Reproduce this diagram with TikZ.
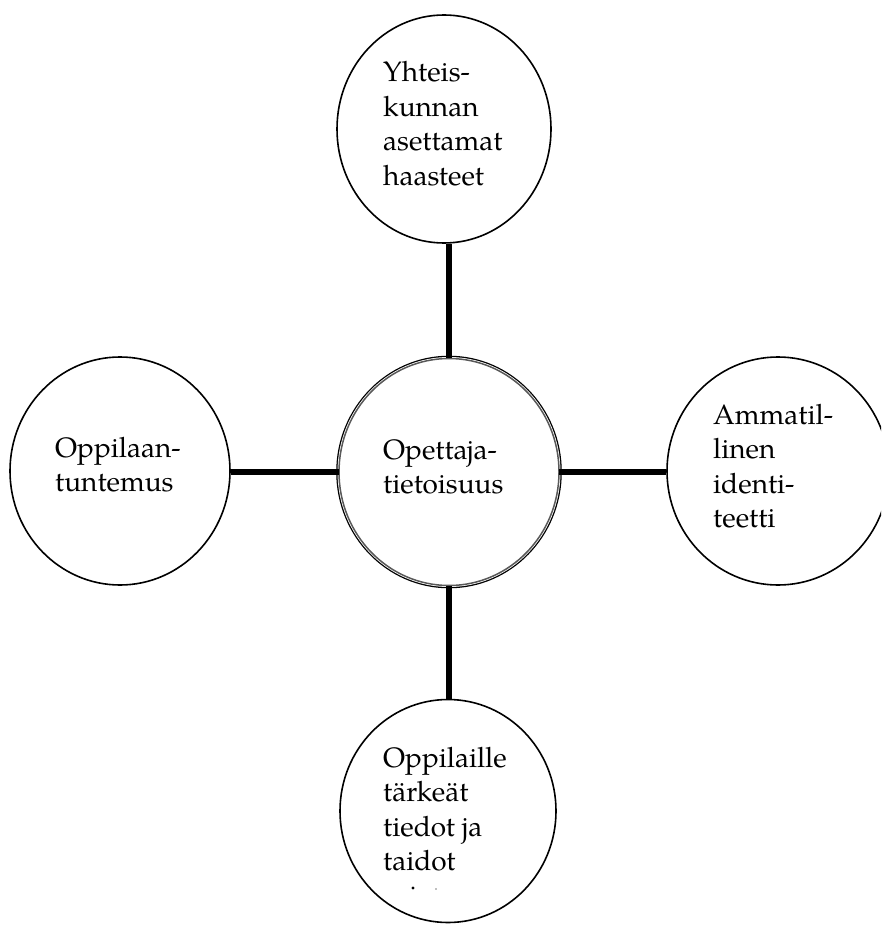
\documentclass[tikz,border=0pt]{standalone}
\usepackage{fontspec}
\setmainfont{TeX Gyre Pagella}
\usetikzlibrary{shapes.geometric}
\newcommand{\lbl}[1]{\parbox[t]{6cm}{\raggedright #1}}
\tikzset{
  topic/.style={draw=black, line width=1.6pt, ellipse, inner sep=0pt,
                minimum width=2*#1, fill=white},
  core/.style={ellipse, inner sep=0pt, fill=white,
               preaction={draw=black, line width=5.6pt},
               postaction={draw=white, line width=3.0pt},
               postaction={draw=black!65, line width=1.5pt}},
  label/.style={anchor=base west, inner sep=0pt,
                font=\fontsize{28}{34.5}\selectfont},
  link/.style={draw=black, line width=6pt}
}
\begin{document}
\begin{tikzpicture}[x=1pt, y=-1pt]
  \useasboundingbox (0,0) rectangle (881,925);
  \clip (0,0) rectangle (881,925);

  \coordinate (c) at (449,472);

  % outer topics
  \node[topic=107pt, minimum height=228pt] (top)    at (444,129) {};
  \node[topic=110pt, minimum height=228pt] (left)   at (120,471) {};
  \node[topic=111pt, minimum height=228pt] (right)  at (778,471) {};
  \node[topic=108pt, minimum height=223pt] (bottom) at (448,811) {};

  % central topic
  \node[core, minimum width=220pt, minimum height=227pt] (center) at (c) {};

  % spokes
  \draw[link] (center.north) -- (center.north |- top.south);
  \draw[link] (center.south) -- (center.south |- bottom.north);
  \draw[link] (center.west)  -- (center.west -| left.east);
  \draw[link] (center.east)  -- (center.east -| right.west);

  % texts
  \node[label] (tTop)    at (383,82)  {\lbl{Yhteis-\\kunnan\\asettamat\\haasteet}};
  \node[label] (tCenter) at (383,459) {\lbl{Opettaja-\\tietoisuus}};
  \node[label] (tLeft)   at (55,457)  {\lbl{Oppilaan-\\tuntemus}};
  \node[label] (tRight)  at (713,424) {\lbl{Ammatil-\\linen\\identi-\\teetti}};
  \node[label] (tBottom) at (383,767) {\lbl{Oppilaille\\tärkeät\\tiedot ja\\taidot}};

  % remains of a cut-off fifth line in the bottom circle
  \fill[black] (413,888) circle (1.6pt);
  \fill[black!50] (436,889) circle (0.9pt);
\end{tikzpicture}
\end{document}
